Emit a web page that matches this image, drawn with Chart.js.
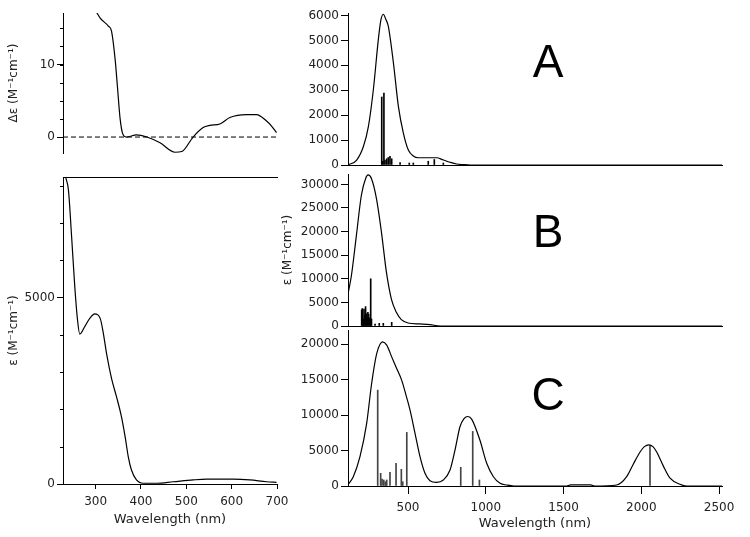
<!DOCTYPE html>
<html>
<head>
<meta charset="utf-8">
<script src="https://cdn.jsdelivr.net/npm/chart.js@4.4.1/dist/chart.umd.min.js"></script>
<style>
  html, body { margin: 0; background: #fff; }
  #wrap { position: relative; width: 750px; height: 537px; }
  #wrap canvas { position: absolute; left: 0; top: 0; }
</style>
</head>
<body>
<div id="wrap">
  <canvas id="chart-cd" width="750" height="537"></canvas>
  <canvas id="chart-abs" width="750" height="537"></canvas>
  <canvas id="chart-a" width="750" height="537"></canvas>
  <canvas id="chart-b" width="750" height="537"></canvas>
  <canvas id="chart-c" width="750" height="537"></canvas>
</div>
<script>
// ---- data (wavelength in nm, values in M^-1 cm^-1) ----
const cdWl  = [302, 310, 328, 335, 343, 348, 354, 360, 368, 390, 413, 442, 475, 490, 515, 537, 552, 574, 596, 633, 655, 677, 688, 699];
const cdVal = [17.2, 16.4, 15.3, 14.6, 10.7, 7.0, 2.5, 0.4, 0, 0.3, 0, -0.8, -2.1, -2.0, 0, 1.3, 1.6, 1.8, 2.7, 3.1, 3.1, 2.2, 1.5, 0.6];

const absWl  = [234, 240, 247, 254, 260, 265, 276, 287, 298, 310, 317, 324, 335, 346, 357, 365, 372, 379, 390, 405, 435, 471, 515, 545, 604, 640, 677, 699];
const absEps = [8220, 7880, 6630, 5290, 4400, 4020, 4220, 4440, 4560, 4440, 4040, 3500, 2830, 2340, 1800, 1270, 730, 375, 110, 20, 20, 60, 110, 130, 130, 110, 60, 45];

const aWl  = [114, 170, 213, 245, 277, 309, 325, 341, 357, 373, 406, 438, 470, 502, 534, 566, 684, 727, 770, 813, 856, 900, 2519];
const aEps = [0, 200, 740, 1540, 3020, 5030, 5800, 6050, 5850, 5570, 4100, 2350, 1280, 600, 360, 290, 290, 200, 110, 40, 15, 0, 0];
const aStickWl = [331, 337, 345, 352, 363, 373, 384, 395, 449, 508, 534, 630, 669, 727];
const aStickF  = [2730, 150, 2890, 200, 250, 300, 350, 250, 100, 80, 80, 150, 220, 80];

const bWl  = [114, 136, 168, 200, 228, 243, 264, 297, 329, 361, 393, 425, 457, 500, 577, 642, 706, 2519];
const bEps = [6800, 10700, 19200, 27700, 31300, 32000, 31300, 27000, 19900, 11400, 5700, 2900, 1340, 640, 430, 280, 0, 0];
const bStickWl = [202, 206, 212, 217, 222, 227, 232, 237, 242, 247, 252, 256, 260, 265, 288, 315, 341, 395];
const bStickF  = [3400, 3700, 1500, 3600, 2200, 4100, 2600, 1800, 2900, 2500, 1700, 1200, 10000, 1500, 430, 560, 560, 770];

const cWl  = [114, 148, 191, 234, 266, 299, 337, 363, 395, 427, 459, 487, 513, 545, 577, 609, 641, 684, 727, 770, 802, 834, 860, 885, 910, 962, 1006, 1049, 1092, 1135, 1180, 1520, 1545, 1675, 1700, 1842, 1906, 1949, 1992, 2020, 2048, 2075, 2099, 2142, 2185, 2249, 2292, 2519];
const cEps = [200, 1300, 4130, 8830, 14460, 18690, 20320, 19860, 18210, 16580, 14930, 12820, 10700, 7420, 4130, 1790, 750, 520, 850, 2250, 5070, 8350, 9500, 9800, 9400, 6480, 3200, 1310, 380, 140, 0, 0, 150, 150, 0, 140, 1310, 3100, 4800, 5550, 5800, 5550, 4800, 2800, 1100, 240, 0, 0];
const cStickWl = [305, 324, 333, 344, 354, 363, 384, 423, 457, 466, 492, 839, 916, 959, 2056];
const cStickF  = [13520, 1790, 990, 850, 610, 850, 1930, 3190, 2350, 600, 7560, 2630, 7700, 850, 5700];

// ---- axis ranges and tick labels ----
const leftRangeX  = [228, 700];
const rightRangeX = [114, 2519];
const leftTicksX  = [300, 400, 500, 600, 700];
const rightTicksX = [500, 1000, 1500, 2000, 2500];
const cdTicksY  = [0, 10];
const absTicksY = [0, 5000];
const aTicksY   = [0, 1000, 2000, 3000, 4000, 5000, 6000];
const bTicksY   = [0, 5000, 10000, 15000, 20000, 25000, 30000];
const cTicksY   = [0, 5000, 10000, 15000, 20000];

const EPS_TITLE = 'ε (M⁻¹cm⁻¹)';
const DEPS_TITLE = 'Δε (M⁻¹cm⁻¹)';
const X_TITLE = 'Wavelength (nm)';

Chart.defaults.font.family = "'DejaVu Sans', sans-serif";
Chart.defaults.font.size = 12;
Chart.defaults.color = '#222';
Chart.defaults.animation = false;

const pts = (xs, ys) => xs.map((x, i) => ({ x, y: ys[i] }));

// small unlabeled ticks between the major ones
const minorTicks = {
  id: 'minorTicks',
  afterDraw(chart, args, opts) {
    if (!opts.step) return;
    const s = chart.scales.y;
    const ctx = chart.ctx;
    ctx.save();
    ctx.strokeStyle = '#000';
    ctx.lineWidth = 1;
    ctx.beginPath();
    for (let v = Math.ceil(s.min / opts.step) * opts.step; v <= s.max; v += opts.step) {
      const y = Math.round(s.getPixelForValue(v)) + 0.5;
      ctx.moveTo(s.right - opts.len, y);
      ctx.lineTo(s.right, y);
    }
    ctx.stroke();
    ctx.restore();
  },
};

// big panel letter (A / B / C)
const panelLetter = {
  id: 'panelLetter',
  afterDraw(chart, args, opts) {
    if (!opts.text) return;
    const a = chart.chartArea;
    const ctx = chart.ctx;
    ctx.save();
    ctx.fillStyle = '#000';
    ctx.font = "46px 'Liberation Sans', Arial, sans-serif";
    ctx.textAlign = 'center';
    ctx.textBaseline = 'middle';
    ctx.fillText(opts.text, a.left + (a.right - a.left) * opts.fx, a.top + (a.bottom - a.top) * opts.fy);
    ctx.restore();
  },
};

function fixBox(w, h) {
  return (s) => {
    if (w != null) s.width = w;
    if (h != null) s.height = h;
    s.paddingTop = s.paddingBottom = s.paddingLeft = s.paddingRight = 0;
  };
}

const setTicks = (values) => (s) => { s.ticks = values.map((value) => ({ value })); };

function yAxis(min, max, ticks, tl, width, title) {
  return {
    type: 'linear', min, max, position: 'left',
    afterFit: fixBox(width, null),
    afterBuildTicks: setTicks(ticks),
    border: { display: true, color: '#000', width: 1 },
    grid: { drawOnChartArea: false, drawTicks: true, tickLength: tl, color: '#000' },
    ticks: { padding: 2, autoSkip: false, callback: (v) => String(v) },
    title: title
      ? { display: true, text: title, padding: { top: 7, bottom: 0 } }
      : { display: false },
  };
}

function xAxis(range, opts) {
  const base = {
    type: 'linear', min: range[0], max: range[1], position: 'bottom', offset: false,
    border: { display: true, color: '#000', width: 1 },
  };
  if (!opts) {
    // bare baseline only
    return Object.assign(base, {
      afterFit: fixBox(null, 0),
      grid: { display: false, drawOnChartArea: false, drawTicks: false, offset: false },
      ticks: { display: false },
    });
  }
  return Object.assign(base, {
    afterFit: fixBox(null, opts.height),
    afterBuildTicks: setTicks(opts.ticks),
    grid: { drawOnChartArea: false, drawTicks: true, tickLength: opts.tl, color: '#000', offset: false },
    ticks: { maxRotation: 0, autoSkip: false, padding: opts.pad, callback: (v) => String(v) },
    title: { display: true, text: X_TITLE, font: { size: 13 }, padding: { top: 0, bottom: opts.titlePad } },
  });
}

function curve(xs, ys) {
  return {
    type: 'line', data: pts(xs, ys),
    borderColor: '#000', borderWidth: 1.2, pointRadius: 0,
    cubicInterpolationMode: 'monotone', fill: false, order: 1,
  };
}

function sticks(xs, ys, color) {
  return {
    type: 'bar', data: pts(xs, ys),
    backgroundColor: color, borderWidth: 0, barThickness: 1, order: 2,
  };
}

function build(id, datasets, scales, padding, pluginOpts) {
  return new Chart(document.getElementById(id), {
    type: 'line',
    data: { datasets },
    options: {
      responsive: false,
      animation: false,
      layout: { padding },
      plugins: Object.assign({ legend: { display: false }, tooltip: { enabled: false } }, pluginOpts),
      scales,
    },
    plugins: [minorTicks, panelLetter],
  });
}

// ===== top-left: CD spectrum =====
build('chart-cd', [
  {
    type: 'line', data: pts(leftRangeX, [0, 0]),
    borderColor: '#000', borderWidth: 1, borderDash: [5, 3], pointRadius: 0,
  },
  curve(cdWl, cdVal),
], {
  x: Object.assign(xAxis(leftRangeX, null), { display: false }),
  y: yAxis(-2.2, 17.1, cdTicksY, 6, 63, DEPS_TITLE),
}, { left: 0, top: 13, right: 473, bottom: 384 }, { minorTicks: { step: 2.5, len: 3 } });

// ===== bottom-left: measured absorption =====
build('chart-abs', [curve(absWl, absEps)], {
  x: xAxis(leftRangeX, { ticks: leftTicksX, tl: 5, height: 46, pad: 6, titlePad: 3 }),
  x2: Object.assign(xAxis([0, 1], null), { position: 'top', axis: 'x' }),
  y: yAxis(0, 8230, absTicksY, 6, 63, EPS_TITLE),
}, { left: 0, top: 177, right: 473, bottom: 7 }, { minorTicks: { step: 1000, len: 3 } });

// ===== right: computed spectra A, B, C =====
build('chart-a', [curve(aWl, aEps), sticks(aStickWl, aStickF, '#000')], {
  x: xAxis(rightRangeX, null),
  y: yAxis(0, 6100, aTicksY, 7, 74, null),
}, { left: 274, top: 13, right: 28, bottom: 372 }, { panelLetter: { text: 'A', fx: 0.535, fy: 0.34 } });

build('chart-b', [curve(bWl, bEps), sticks(bStickWl, bStickF, '#000')], {
  x: xAxis(rightRangeX, null),
  y: yAxis(0, 32200, bTicksY, 7, 74, EPS_TITLE),
}, { left: 274, top: 174, right: 28, bottom: 211 }, { panelLetter: { text: 'B', fx: 0.535, fy: 0.395 } });

build('chart-c', [curve(cWl, cEps), sticks(cStickWl, cStickF, '#444')], {
  x: xAxis(rightRangeX, { ticks: rightTicksX, tl: 8, height: 51, pad: 7, titlePad: 6 }),
  y: yAxis(0, 22000, cTicksY, 7, 74, null),
}, { left: 274, top: 330, right: 28, bottom: 0 }, { panelLetter: { text: 'C', fx: 0.535, fy: 0.43 } });
</script>
</body>
</html>
